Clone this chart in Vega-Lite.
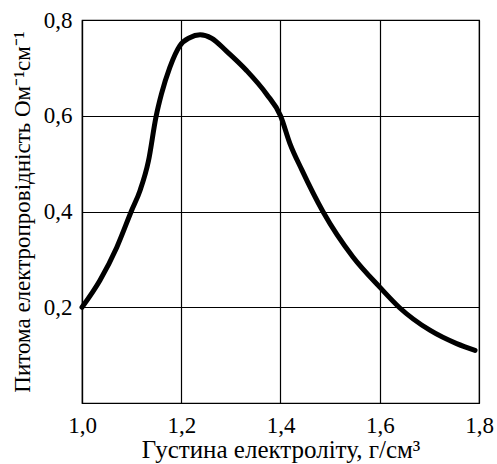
{
  "$schema": "https://vega.github.io/schema/vega-lite/v6.json",
  "width": 397,
  "height": 383,
  "autosize": {"type": "none"},
  "padding": {"left": 82, "top": 20, "right": 18, "bottom": 61},
  "background": "white",
  "config": {
    "view": {"stroke": "black", "strokeWidth": 1.2},
    "font": "Liberation Serif",
    "axis": {
      "labelFont": "Liberation Serif",
      "titleFont": "Liberation Serif",
      "labelFontSize": 23,
      "titleFontWeight": "normal",
      "labelColor": "black",
      "titleColor": "black",
      "gridColor": "black",
      "gridOpacity": 1,
      "gridWidth": 1.2,
      "domainColor": "black",
      "domainWidth": 1.2,
      "ticks": false,
      "tickSize": 0,
      "labelFlush": false,
      "labelOverlap": false
    }
  },
  "data": {
    "values": [
      {"x": 1.000, "y": 0.200},
      {"x": 1.036, "y": 0.256},
      {"x": 1.070, "y": 0.325},
      {"x": 1.100, "y": 0.402},
      {"x": 1.117, "y": 0.444},
      {"x": 1.134, "y": 0.506},
      {"x": 1.149, "y": 0.597},
      {"x": 1.160, "y": 0.645},
      {"x": 1.177, "y": 0.701},
      {"x": 1.197, "y": 0.746},
      {"x": 1.217, "y": 0.763},
      {"x": 1.238, "y": 0.769},
      {"x": 1.261, "y": 0.762},
      {"x": 1.291, "y": 0.735},
      {"x": 1.332, "y": 0.694},
      {"x": 1.372, "y": 0.645},
      {"x": 1.400, "y": 0.600},
      {"x": 1.419, "y": 0.542},
      {"x": 1.443, "y": 0.487},
      {"x": 1.486, "y": 0.399},
      {"x": 1.546, "y": 0.305},
      {"x": 1.600, "y": 0.242},
      {"x": 1.640, "y": 0.199},
      {"x": 1.701, "y": 0.152},
      {"x": 1.755, "y": 0.124},
      {"x": 1.792, "y": 0.110}
    ]
  },
  "mark": {"type": "line", "color": "black", "strokeWidth": 5, "interpolate": "monotone", "strokeCap": "round", "clip": false},
  "encoding": {
    "x": {
      "field": "x",
      "type": "quantitative",
      "scale": {"domain": [1.0, 1.8], "nice": false, "zero": false},
      "axis": {
        "values": [1.0, 1.2, 1.4, 1.6, 1.8],
        "labelExpr": "replace(format(datum.value, '.1f'), '.', ',')",
        "labelPadding": 11,
        "titlePadding": 0,
        "titleFontSize": 25,
        "title": "Густина електроліту, г/см³"
      }
    },
    "y": {
      "field": "y",
      "type": "quantitative",
      "scale": {"domain": [0, 0.8], "nice": false},
      "axis": {
        "values": [0.2, 0.4, 0.6, 0.8],
        "labelExpr": "replace(format(datum.value, '.1f'), '.', ',')",
        "labelPadding": 10,
        "titlePadding": 9,
        "titleFontSize": 23,
        "title": "Питома електропровідність Ом⁻¹см⁻¹"
      }
    }
  }
}
